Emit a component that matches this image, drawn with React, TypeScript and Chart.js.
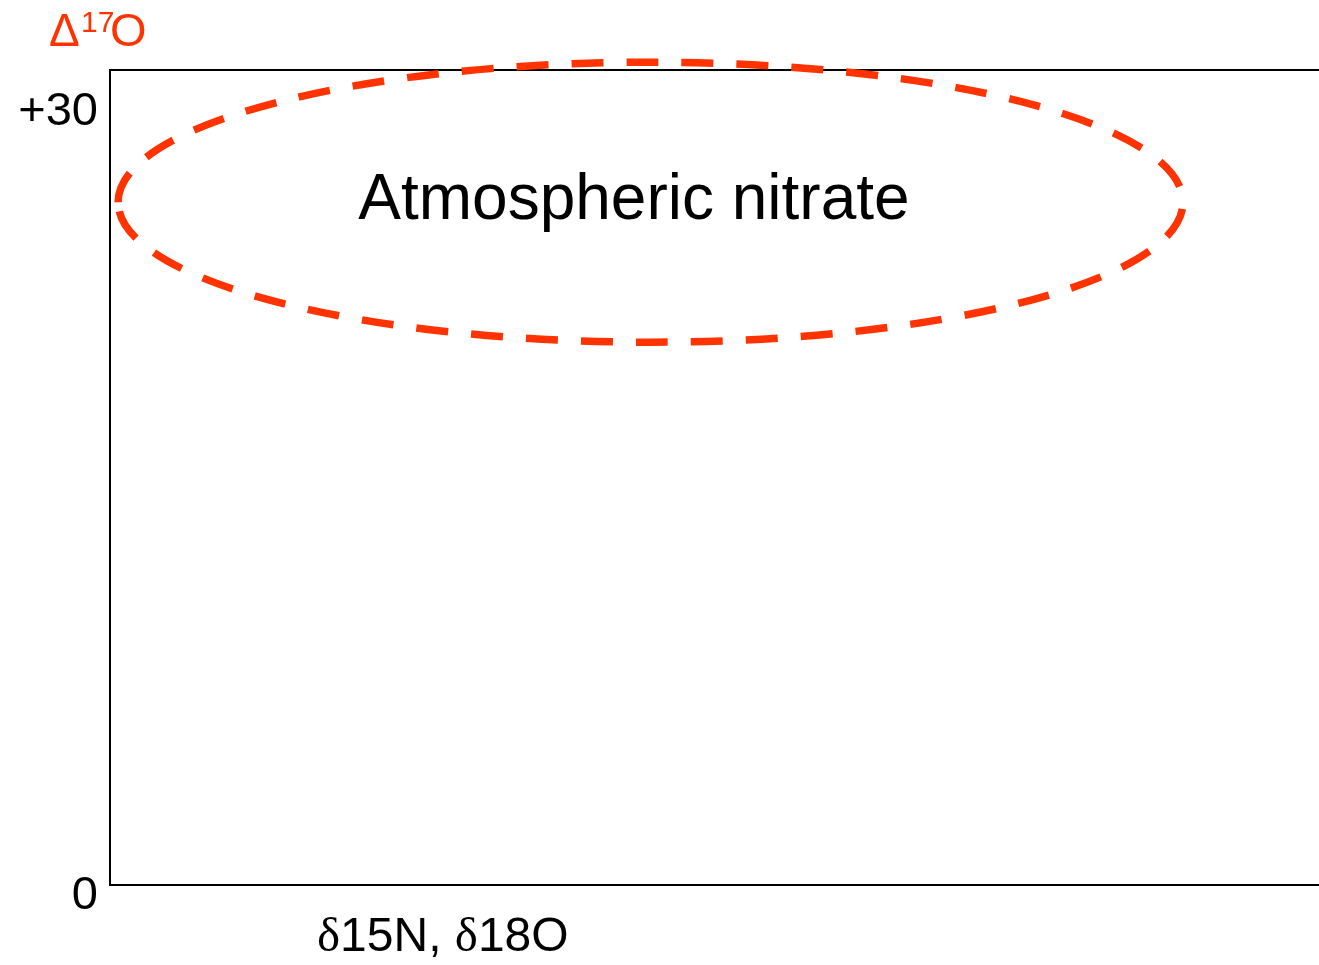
import React, { useEffect, useRef } from "react";
import { Chart, registerables } from "chart.js";

Chart.register(...registerables);

// ---- data ----
const yTickValues = [0, 30];
const yTickLabels = ["0", "+30"];
const yRange = [0, 31.2];
const xRange = [0, 100];

// ellipse (data units): center x, center y, radius x, radius y
const ellipseCenter = [44.71, 26.14];
const ellipseRadii = [44.04, 5.36];
const ellipseLabel = "Atmospheric nitrate";
const ellipseLabelPos = [43.34, 25.49];

const yTitleParts = ["Δ", "17", "O"];
const xTitleParts = ["δ", "15N, ", "δ", "18O"];

const RED = "#FF3300";
const SANS = "'Liberation Sans', Arial, sans-serif";
const SERIF = "'Liberation Serif', 'Times New Roman', serif";

const decorPlugin = {
  id: "decor",
  afterDraw(chart: any) {
    const { ctx, chartArea, scales } = chart;
    const xs = scales.x;
    const ys = scales.y;
    ctx.save();

    // top frame line
    ctx.strokeStyle = "#000";
    ctx.lineWidth = 2;
    ctx.beginPath();
    ctx.moveTo(chartArea.left, chartArea.top);
    ctx.lineTo(chartArea.right, chartArea.top);
    ctx.stroke();

    // dashed ellipse
    const cx = xs.getPixelForValue(ellipseCenter[0]);
    const cy = ys.getPixelForValue(ellipseCenter[1]);
    const rx = Math.abs(xs.getPixelForValue(ellipseCenter[0] + ellipseRadii[0]) - cx);
    const ry = Math.abs(ys.getPixelForValue(ellipseCenter[1] + ellipseRadii[1]) - cy);
    ctx.strokeStyle = RED;
    ctx.lineWidth = 7.5;
    ctx.setLineDash([32, 23]);
    ctx.beginPath();
    ctx.ellipse(cx, cy, rx, ry, 0, Math.PI, 3 * Math.PI);
    ctx.stroke();
    ctx.setLineDash([]);

    // label inside ellipse
    ctx.fillStyle = "#000";
    ctx.font = `64px ${SANS}`;
    ctx.textAlign = "center";
    ctx.textBaseline = "alphabetic";
    ctx.fillText(
      ellipseLabel,
      xs.getPixelForValue(ellipseLabelPos[0]),
      ys.getPixelForValue(ellipseLabelPos[1])
    );

    // y title: Δ17O in red
    ctx.fillStyle = RED;
    ctx.textAlign = "left";
    ctx.font = `46px ${SANS}`;
    ctx.fillText(yTitleParts[0], 49, 46);
    ctx.font = `30px ${SANS}`;
    ctx.fillText(yTitleParts[1], 81, 32);
    ctx.font = `47px ${SANS}`;
    ctx.fillText(yTitleParts[2], 110, 46);

    // x title: δ15N, δ18O
    ctx.fillStyle = "#000";
    let x = 317;
    const base = 951;
    xTitleParts.forEach((p) => {
      ctx.font = p === "δ" ? `49px ${SERIF}` : `48px ${SANS}`;
      ctx.fillText(p, x, base);
      x += ctx.measureText(p).width;
    });

    ctx.restore();
  },
};

export default function App() {
  const ref = useRef<HTMLCanvasElement | null>(null);

  useEffect(() => {
    if (!ref.current) return;
    const chart = new Chart(ref.current, {
      type: "scatter",
      data: { datasets: [] },
      options: {
        responsive: false,
        animation: false,
        layout: { padding: { top: 70, right: 0, left: 0, bottom: 0 } },
        plugins: {
          legend: { display: false },
          tooltip: { enabled: false },
          title: { display: false },
        },
        scales: {
          x: {
            type: "linear",
            min: xRange[0],
            max: xRange[1],
            grid: { display: false, drawTicks: false },
            border: { display: true, color: "#000", width: 2 },
            ticks: { display: false },
            afterFit: (s: any) => {
              s.height = 80;
            },
          },
          y: {
            type: "linear",
            min: yRange[0],
            max: yRange[1],
            grid: { display: false, drawTicks: false },
            border: { display: true, color: "#000", width: 2 },
            afterBuildTicks: (s: any) => {
              s.ticks = yTickValues.map((v) => ({ value: v }));
            },
            ticks: {
              color: "#000",
              font: { family: SANS, size: 47 },
              padding: 12,
              labelOffset: 11,
              callback: (v: any) => yTickLabels[yTickValues.indexOf(Number(v))] ?? "",
            },
            afterFit: (s: any) => {
              s.width = 110;
            },
          },
        },
      },
      plugins: [decorPlugin],
    });
    return () => chart.destroy();
  }, []);

  return (
    <div style={{ position: "absolute", left: 0, top: 0, width: 1319, height: 965, background: "#fff" }}>
      <canvas ref={ref} width={1319} height={965} />
    </div>
  );
}
